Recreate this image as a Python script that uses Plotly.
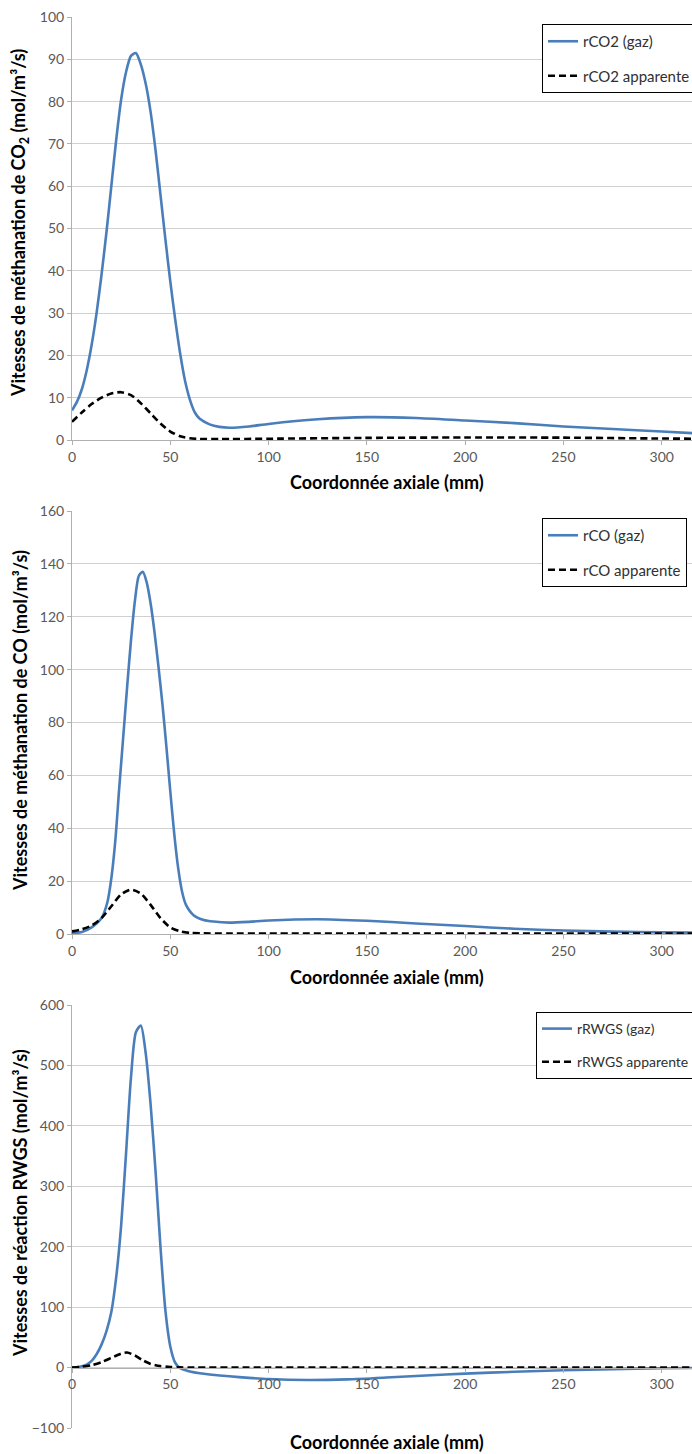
import plotly.graph_objects as go

# ---------------- data ----------------
# Panel 1 : CO2 methanation
x_co2_gaz = [0, 2.5, 5, 7.5, 10, 12.5, 15, 17.5, 20, 22.5, 25, 27.5, 30, 32.5, 35, 37.5, 40, 42.5, 45, 47.5,
             50, 52.5, 55, 57.5, 60, 62.5, 65, 70, 75, 80, 90, 100, 125, 150, 175, 200, 225, 250, 275, 300, 316]
y_co2_gaz = [7, 9, 12, 16.5, 22.5, 30, 39, 49, 60, 71, 80.5, 87, 90.8, 91.5, 88.8, 84.2, 77.5, 68.5, 58, 47.5,
             37.5, 28.5, 20.5, 14, 9.5, 6.5, 5, 3.7, 3.1, 2.9, 3.2, 3.8, 4.9, 5.4, 5.2, 4.6, 4.0, 3.2, 2.6, 2.0, 1.6]
x_co2_app = [0, 5, 10, 15, 20, 25, 30, 35, 40, 45, 50, 55, 60, 65, 75, 100, 150, 200, 250, 300, 316]
y_co2_app = [4.3, 6.5, 8.5, 10.0, 11.0, 11.3, 10.6, 8.7, 6.3, 3.9, 2.0, 0.9, 0.4, 0.25, 0.2, 0.3, 0.5,
             0.6, 0.55, 0.35, 0.3]

# Panel 2 : CO methanation
x_co_gaz = [0, 5, 10, 15, 18, 20, 22, 24, 26, 28, 30, 32, 34, 36, 38, 40, 42, 44, 46, 48, 50, 52, 54,
            56, 58, 62, 67, 72, 80, 90, 100, 125, 150, 175, 200, 225, 250, 275, 300, 316]
y_co_gaz = [0.3, 0.8, 2.5, 6, 12, 21, 35, 55, 74, 93, 111, 126, 135.5, 137, 133, 125, 114, 101, 87, 71,
            54, 38, 25, 16, 11, 7, 5.3, 4.7, 4.3, 4.6, 5.1, 5.6, 5.0, 4.0, 3.0, 2.0, 1.3, 0.9, 0.6, 0.5]
x_co_app = [0, 5, 10, 15, 20, 25, 30, 35, 40, 45, 50, 55, 60, 65, 80, 100, 150, 200, 250, 300, 316]
y_co_app = [1, 1.8, 3.2, 6, 10.5, 15, 16.8, 15.3, 11, 6, 2.5, 1.0, 0.4, 0.25, 0.2, 0.2, 0.2, 0.2, 0.2,
            0.15, 0.15]

# Panel 3 : RWGS
x_rwgs_gaz = [0, 2.5, 5, 7.5, 10, 12.5, 15, 17.5, 20, 22.5, 25, 27.5, 30, 32.5, 35, 37.5, 40, 42.5, 45,
              47.5, 50, 52.5, 55, 57.5, 60, 65, 70, 80, 90, 100, 120, 140, 160, 180, 200, 225, 250, 275, 300, 316]
y_rwgs_gaz = [0, 0.5, 2, 5, 11, 22, 38, 60, 92, 150, 235, 355, 480, 555, 566, 520, 435, 325, 200,
              95, 35, 8, -1, -4, -6.5, -9.5, -11.5, -14.5, -17, -19, -20.5, -19.5, -16.5, -13, -10, -7, -4.5, -2.5, -1.2, -0.8]
x_rwgs_app = [0, 5, 10, 15, 20, 25, 28, 32, 36, 40, 45, 50, 55, 60, 100, 200, 316]
y_rwgs_app = [0, 1.5, 4, 9, 16, 23, 25, 20, 12, 6, 2.5, 1, 0.3, 0.1, 0, 0, 0]

names = [("rCO2 (gaz)", "rCO2 apparente"),
         ("rCO (gaz)", "rCO apparente"),
         ("rRWGS (gaz)", "rRWGS apparente")]
y_titles = ["Vitesses de méthanation de CO<sub>2</sub> (mol/m³/s)",
            "Vitesses de méthanation de CO (mol/m³/s)",
            "Vitesses de réaction RWGS (mol/m³/s)"]
x_title = "Coordonnée axiale (mm)"
y_ranges = [(0, 100, 10), (0, 160, 20), (-100, 600, 100)]
x_ticks = [0, 50, 100, 150, 200, 250, 300]

# ---------------- layout geometry ----------------
W, H = 692, 1454
ML, MR, MT, MB = 72, 0, 17, 26
PH = H - MT - MB
PW = W - ML - MR


def py(px):  # pixel y -> paper y
    return (H - MB - px) / PH


def pxx(px):  # pixel x -> paper x
    return (px - ML) / PW


panel_px = [(17, 440), (511, 934), (1005, 1428)]
domains = [[py(b), py(t)] for t, b in panel_px]

FONT = "Lato"
BLUE = "#4A7EBB"
GRID = "#d0d0d0"
AX = "#b0b0b0"
TICKC = "#595959"

data = [(x_co2_gaz, y_co2_gaz, x_co2_app, y_co2_app),
        (x_co_gaz, y_co_gaz, x_co_app, y_co_app),
        (x_rwgs_gaz, y_rwgs_gaz, x_rwgs_app, y_rwgs_app)]

fig = go.Figure()
for i, (xg, yg, xa, ya) in enumerate(data):
    k = "" if i == 0 else str(i + 1)
    leg = "legend" if i == 0 else f"legend{i + 1}"
    fig.add_trace(go.Scatter(x=xg, y=yg, mode="lines", name=names[i][0],
                             line=dict(color=BLUE, width=2.6, shape="spline", smoothing=0.7),
                             xaxis="x" + k, yaxis="y" + k, legend=leg,
                             legendgroup=f"g{i}a"))
    fig.add_trace(go.Scatter(x=xa, y=ya, mode="lines", name=names[i][1],
                             line=dict(color="black", width=2.6, dash="7px,4px", shape="spline",
                                       smoothing=0.7),
                             xaxis="x" + k, yaxis="y" + k, legend=leg,
                             legendgroup=f"g{i}b"))

layout = dict(width=W, height=H, margin=dict(l=ML, r=MR, t=MT, b=MB, autoexpand=False),
              paper_bgcolor="white", plot_bgcolor="white",
              font=dict(family=FONT, color=TICKC, size=14), annotations=[])

legend_tops = [24, 518, 1012]
legend_lefts = [542, 542, 536]
legend_fonts = [15, 15, 14]
xtitle_px = [482, 977, 1442]
ytitle_center = [223, 721, 1203]

for i in range(3):
    k = "" if i == 0 else str(i + 1)
    lo, hi, dt = y_ranges[i]
    xa = dict(domain=[0, 1], range=[0, 315.4], tickvals=x_ticks, showgrid=False,
              zeroline=False, showline=True, linecolor=AX, linewidth=1,
              ticks="outside", ticklen=4, tickcolor=AX,
              tickfont=dict(family=FONT, size=14, color=TICKC))
    if i == 2:
        xa.update(anchor="free", position=domains[2][0] + (domains[2][1] - domains[2][0]) * (0 - lo) / (hi - lo))
    else:
        xa.update(anchor="y" + k)
    ya = dict(domain=domains[i], range=[lo, hi], dtick=dt, tick0=0, showgrid=True,
              gridcolor=GRID, gridwidth=1, zeroline=False, showline=True, linecolor=AX,
              linewidth=1, ticks="outside", ticklen=4, tickcolor=AX, anchor="x" + k,
              tickfont=dict(family=FONT, size=14, color=TICKC))
    layout["xaxis" + k] = xa
    layout["yaxis" + k] = ya
    leg = "legend" if i == 0 else f"legend{i + 1}"
    layout[leg] = dict(x=pxx(legend_lefts[i]), y=py(legend_tops[i]), xanchor="left", yanchor="top",
                       bgcolor="white", bordercolor="black", borderwidth=1,
                       font=dict(family=FONT, size=legend_fonts[i], color="#303030"),
                       traceorder="grouped", tracegroupgap=12, itemwidth=30)
    layout["annotations"].append(dict(text=x_title, x=pxx(387), y=py(xtitle_px[i]),
                                      xref="paper", yref="paper", showarrow=False,
                                      xanchor="center", yanchor="middle",
                                      font=dict(family=FONT, size=18, color="black", weight="bold")))
    layout["annotations"].append(dict(text=y_titles[i], x=pxx(20), y=py(ytitle_center[i]),
                                      xref="paper", yref="paper", showarrow=False, textangle=-90,
                                      xanchor="center", yanchor="middle",
                                      font=dict(family=FONT, size=18, color="black", weight="bold")))

fig.update_layout(**layout)
fig.write_html("out.html", config={"displayModeBar": False},
               post_script="document.body.style.margin='0';document.body.style.overflow='hidden';")
